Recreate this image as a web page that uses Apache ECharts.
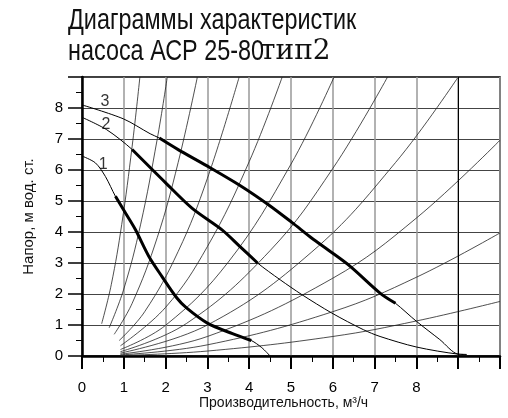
<!DOCTYPE html>
<html>
<head>
<meta charset="utf-8">
<script src="https://cdn.jsdelivr.net/npm/echarts@6/dist/echarts.min.js"></script>
<style>
  html, body { margin: 0; padding: 0; background: #fff; }
  #chart { width: 508px; height: 418px; }
</style>
</head>
<body>
<div id="chart"></div>
<script>
// tick labels (9 and 10 are left blank on the original)
const flowTicks = ['0', '1', '2', '3', '4', '5', '6', '7', '8', '', '']
const headTicks = ['0', '1', '2', '3', '4', '5', '6', '7', '8', '']

// pump curves [Q m3/h, H m], full thin line
const pump1 = [[0, 6.45], [0.32, 6.23], [0.56, 5.79], [0.8, 5.15], [1.04, 4.61], [1.28, 4.07], [1.6, 3.21], [1.91, 2.57], [2.27, 1.87], [2.5, 1.55], [3, 1.06], [3.6, 0.72], [4.05, 0.5], [4.3, 0.27], [4.5, 0]]
const pump2 = [[0, 7.7], [0.59, 7.3], [1.2, 6.66], [1.99, 5.6], [2.63, 4.77], [3.35, 4.07], [3.78, 3.53], [4.2, 3.0], [4.74, 2.46], [5.26, 1.98], [5.97, 1.39], [6.73, 0.85], [7.13, 0.63], [8, 0.29], [9, 0.06], [9.2, 0.05]]
const pump3 = [[0, 8.1], [0.99, 7.65], [1.63, 7.17], [1.85, 7.03], [2.31, 6.65], [2.98, 6.14], [3.78, 5.5], [4.46, 4.88], [5.02, 4.31], [5.5, 3.8], [5.89, 3.42], [6.41, 2.9], [7.13, 2.03], [7.5, 1.7], [8, 1.12], [8.56, 0.53], [9, 0.06], [9.2, 0.05]]

// working ranges (thick part)
const pump1Work = [[0.8, 5.15], [1.04, 4.61], [1.28, 4.07], [1.6, 3.21], [1.91, 2.57], [2.27, 1.87], [2.5, 1.55], [3, 1.06], [3.6, 0.72], [4.05, 0.5]]
const pump2Work = [[1.2, 6.66], [1.99, 5.6], [2.63, 4.77], [3.35, 4.07], [3.78, 3.53], [4.2, 3.0]]
const pump3Work = [[1.85, 7.03], [2.31, 6.65], [2.98, 6.14], [3.78, 5.5], [4.46, 4.88], [5.02, 4.31], [5.5, 3.8], [5.89, 3.42], [6.41, 2.9], [7.13, 2.03], [7.5, 1.7]]

// pipe system curves
const systemCurves = [
  [[0.47, 1.04], [0.7, 2.3], [0.95, 4.24], [1.2, 6.77], [1.385, 9]],
  [[0.65, 0.91], [1.0, 2.16], [1.4, 4.23], [1.8, 7.0], [2.04, 9]],
  [[0.77, 0.7], [1.2, 1.7], [1.8, 3.82], [2.3, 6.24], [2.76, 9]],
  [[0.89, 0.5], [1.5, 1.43], [2.3, 3.37], [3.0, 5.73], [3.76, 9]],
  [[0.92, 0.33], [2.0, 1.57], [3.0, 3.53], [4.0, 6.27], [4.79, 9]],
  [[0.92, 0.21], [2.0, 0.99], [3.5, 3.03], [5.0, 6.19], [6.03, 9]],
  [[0.92, 0.14], [2.5, 1.05], [4.5, 3.4], [6.0, 6.05], [7.31, 9]],
  [[0.92, 0.094], [3.0, 1.0], [5.5, 3.36], [7.5, 6.24], [9.0, 9]],
  [[0.92, 0.059], [3.0, 0.63], [6.0, 2.51], [8.0, 4.45], [10, 6.96]],
  [[0.92, 0.034], [3.0, 0.36], [6.0, 1.43], [8.0, 2.54], [10, 3.97]],
  [[0.92, 0.015], [3.0, 0.16], [6.0, 0.63], [8.0, 1.13], [10, 1.76]]
]

// curve numbers
const curveLabels = [[0.51, 6.17, '1'], [0.57, 7.48, '2'], [0.55, 8.2, '3']]

const font = '"Liberation Sans", Arial, sans-serif'
const chart = echarts.init(document.getElementById('chart'))

const series = []
systemCurves.forEach(function (pts) {
  series.push({
    type: 'line', data: pts, smooth: 0.4, symbol: 'none', silent: true,
    lineStyle: { color: '#222', width: 0.8 }, z: 2
  })
})
;[pump1, pump2, pump3].forEach(function (pts) {
  series.push({
    type: 'line', data: pts, smooth: 0.3, symbol: 'none', silent: true,
    lineStyle: { color: '#000', width: 1 }, z: 3
  })
})
;[pump1Work, pump2Work, pump3Work].forEach(function (pts) {
  series.push({
    type: 'line', data: pts, smooth: 0.3, symbol: 'none', silent: true,
    lineStyle: { color: '#000', width: 3 }, z: 4
  })
})
series.push({
  type: 'scatter', data: curveLabels, symbolSize: 0, silent: true, z: 5,
  label: {
    show: true, position: 'inside', color: '#000', fontSize: 16, fontFamily: font,
    formatter: function (p) { return p.value[2] }
  },
  markLine: {
    silent: true, symbol: 'none', label: { show: false },
    lineStyle: { color: '#000', width: 1, type: 'solid' },
    data: [{ xAxis: 9 }]
  }
})

chart.setOption({
  animation: false,
  grid: {
    left: 82, top: 77, right: 8, bottom: 62,
    show: true, borderColor: '#000', borderWidth: 1.5
  },
  graphic: [
    {
      type: 'text', left: 68, top: 6, scaleX: 0.78,
      style: { text: 'Диаграммы характеристик', font: '30px ' + font, fill: '#111' }
    },
    {
      type: 'text', left: 68, top: 37, scaleX: 0.78,
      style: { text: 'насоса АСР 25-80', font: '30px ' + font, fill: '#111' }
    },
    {
      type: 'text', left: 260, top: 38,
      style: { text: 'тип2', font: '28px "DejaVu Serif", "Liberation Serif", serif', fill: '#111' }
    },
    {
      type: 'text', left: 199, top: 396,
      style: { text: 'Производительность, м³/ч', font: '14px ' + font, fill: '#111' }
    }
  ],
  xAxis: {
    type: 'value', min: 0, max: 10, interval: 1,
    axisLine: { show: true, onZero: false, lineStyle: { color: '#000', width: 2.5 } },
    axisTick: { show: true, length: 13, lineStyle: { color: '#000', width: 2 } },
    minorTick: { show: true, splitNumber: 2, length: 6, lineStyle: { color: '#000', width: 1 } },
    axisLabel: {
      margin: 24, color: '#000', fontSize: 15, fontFamily: font,
      formatter: function (v) { return flowTicks[Math.round(v)] }
    },
    splitLine: { show: true, lineStyle: { color: '#999', width: 1.5 } }
  },
  yAxis: {
    type: 'value', min: 0, max: 9, interval: 1,
    name: 'Напор, м вод. ст.', nameLocation: 'middle', nameGap: 46,
    nameTextStyle: { color: '#111', fontSize: 15, fontFamily: font },
    axisLine: { show: true, onZero: false, lineStyle: { color: '#000', width: 2.5 } },
    axisTick: { show: true, length: 14, lineStyle: { color: '#000', width: 1.5 } },
    minorTick: { show: true, splitNumber: 2, length: 6, lineStyle: { color: '#000', width: 1 } },
    axisLabel: {
      margin: 19, color: '#000', fontSize: 15, fontFamily: font,
      formatter: function (v) { return headTicks[Math.round(v)] }
    },
    splitLine: { show: true, lineStyle: { color: '#444', width: 1 } }
  },
  series: series
})
</script>
</body>
</html>
